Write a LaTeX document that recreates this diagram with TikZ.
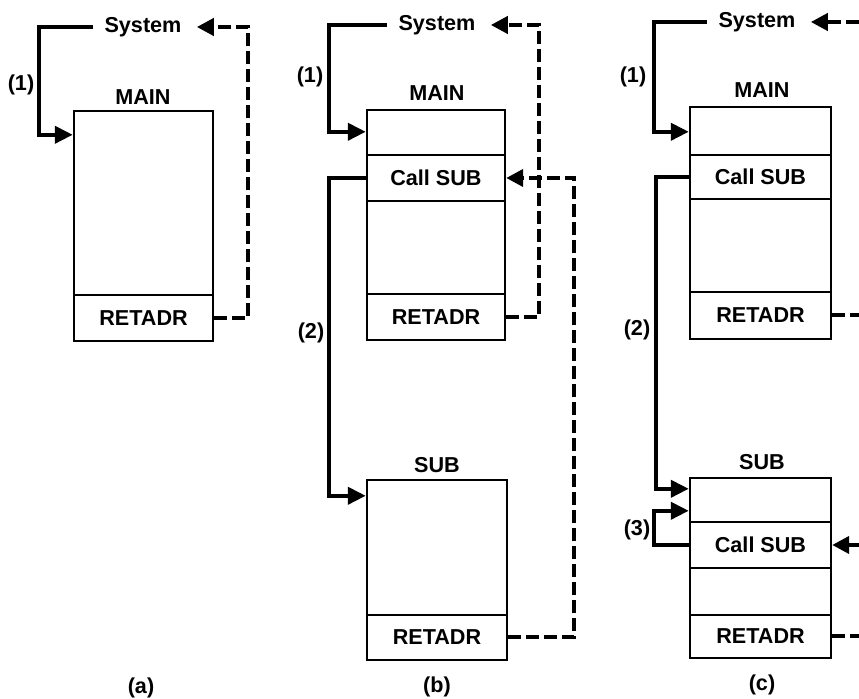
\documentclass[tikz,border=0pt]{standalone}
\usepackage{fontspec}
\setmainfont{Liberation Sans}
\usetikzlibrary{arrows.meta,calc}
\begin{document}
\begin{tikzpicture}[x=0.5pt,y=-0.5pt,
  font=\fontsize{10.8}{13}\selectfont\bfseries,
  row/.style 2 args={draw, line width=1.2pt, inner sep=0pt, minimum width=#1, minimum height=#2},
  lbl/.style={inner sep=0pt},
  sys/.style={inner xsep=5.5pt, inner ysep=0pt},
  call/.style={line width=2pt, -{Triangle[length=9pt,width=8.5pt]}},
  ret/.style={line width=2pt, dash pattern=on 6.5pt off 2.5pt, -{Triangle[length=8.5pt,width=8.5pt]}},
  retn/.style={line width=2pt, dash pattern=on 6.5pt off 2.5pt}
]
\useasboundingbox (0,0) rectangle (859,699);
\coordinate (edge) at (859,0);

% ---------- panel (a) ----------
\node[sys] (sysA) at (143,27) {System};
\node[lbl] (mainA) at (143,97) {MAIN};
\node[row={69.5pt}{92pt}] (a1) at (143.5,203) {};
\node[row={69.5pt}{23pt}] (a2) at (143.5,318) {RETADR};
\node[lbl] (oneA) at (21,85) {(1)};
\node[lbl] (capA) at (141,688) {(a)};
\coordinate (a1in) at ($(a1.north west)+(0,25)$);
\draw[call] (sysA.west) -| ($(a1in)+(-34,0)$) -- (a1in);
\draw[ret, shorten >=2pt] (a2.east) -- ++(34,0) |- (sysA.east);

% ---------- panel (b) ----------
\node[sys] (sysB) at (437,25) {System};
\node[lbl] (mainB) at (437,93) {MAIN};
\node[row={69pt}{22.5pt}] (b1) at (436,132.5) {};
\node[row={69pt}{23pt}] (b2) at (436,178) {Call SUB};
\node[row={69pt}{46.5pt}] (b3) at (436,247.5) {};
\node[row={69pt}{23pt}] (b4) at (436,317) {RETADR};
\node[lbl] (subB) at (437,465) {SUB};
\node[row={70pt}{67.5pt}] (bs1) at (437,547.5) {};
\node[row={70pt}{22.5pt}] (bs2) at (437,637.5) {RETADR};
\node[lbl] (oneB) at (310,77) {(1)};
\node[lbl] (twoB) at (311,333) {(2)};
\node[lbl] (capB) at (437,687) {(b)};
\coordinate (b1in) at ($(b1.north west)+(0,23)$);
\coordinate (bs1in) at ($(bs1.north west)+(0,17)$);
\draw[call] (sysB.west) -| ($(b1in)+(-37,0)$) -- (b1in);
\draw[call] (b2.west) -| ($(bs1in)+(-37,0)$) -- (bs1in);
\draw[ret, shorten >=2pt] (b4.east) -- ++(33,0) |- (sysB.east);
\draw[ret] (bs2.east) -- ++(66,0) |- (b2.east);

% ---------- panel (c) ----------
\node[sys] (sysC) at (757,22) {System};
\node[lbl] (mainC) at (762,90) {MAIN};
\node[row={70.5pt}{24pt}] (c1) at (760.5,131) {};
\node[row={70.5pt}{22pt}] (c2) at (760.5,177) {Call SUB};
\node[row={70.5pt}{46.5pt}] (c3) at (760.5,245.5) {};
\node[row={70.5pt}{23.5pt}] (c4) at (760.5,315.5) {RETADR};
\node[lbl] (subC) at (762,462) {SUB};
\node[row={70.5pt}{22pt}] (cs1) at (760.5,500) {};
\node[row={70.5pt}{23pt}] (cs2) at (760.5,545) {Call SUB};
\node[row={70.5pt}{23.5pt}] (cs3) at (760.5,591.5) {};
\node[row={70.5pt}{21.5pt}] (cs4) at (760.5,636.5) {RETADR};
\node[lbl] (oneC) at (633,77) {(1)};
\node[lbl] (twoC) at (637,330) {(2)};
\node[lbl] (threeC) at (637,530) {(3)};
\node[lbl] (capC) at (762,685) {(c)};
\coordinate (c1in) at ($(c1.north west)+(0,26)$);
\coordinate (cs1inA) at ($(cs1.north west)+(0,12)$);
\coordinate (cs1inB) at ($(cs1.north west)+(0,34)$);
\draw[call] (sysC.west) -| ($(c1in)+(-35,0)$) -- (c1in);
\draw[call] (c2.west) -| ($(cs1inA)+(-33,0)$) -- (cs1inA);
\draw[call] (cs2.west) -| ($(cs1inB)+(-35,0)$) -- (cs1inB);
\draw[ret, shorten >=2pt] (sysC.east -| edge) -- (sysC.east);
\draw[retn] (c4.east) -- (c4.east -| edge);
\draw[ret] (cs2.east -| edge) -- (cs2.east);
\draw[retn] (cs4.east) -- (cs4.east -| edge);
\end{tikzpicture}
\end{document}
